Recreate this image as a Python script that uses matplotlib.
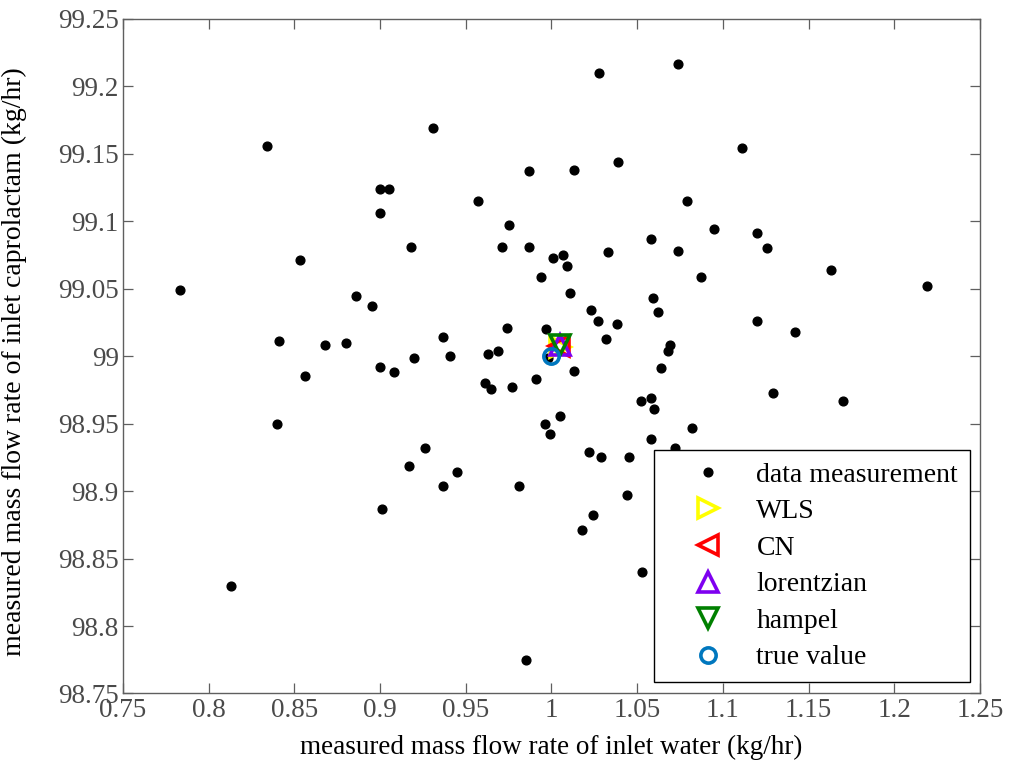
import matplotlib
matplotlib.use("Agg")
import matplotlib.pyplot as plt

plt.rcParams['font.family'] = ['Liberation Serif', 'DejaVu Serif']

meas_x = [0.783, 0.834, 0.853, 0.841, 0.868, 0.880, 0.886, 0.895, 0.900, 0.905,
          0.900, 0.918, 0.931, 0.937, 0.941, 0.920, 0.963, 0.969, 0.974, 0.987,
          0.957, 0.975, 0.971, 0.987, 0.994, 0.997, 1.028, 1.074, 1.111, 1.039,
          1.013, 1.079, 1.095, 1.120, 1.126, 1.058, 1.074, 1.033, 1.001, 1.007,
          1.009, 1.087, 1.163, 1.219, 1.011, 1.059, 1.062, 1.023, 1.027, 1.038,
          1.120, 1.142, 1.032, 1.069, 1.068, 1.013, 1.064, 1.129, 1.170, 1.052,
          1.058, 1.060, 1.005, 0.996, 0.999, 1.082, 1.058, 1.072, 1.022, 1.029,
          1.045, 1.044, 1.024, 1.018, 1.053, 0.900, 0.908, 0.856, 0.961, 0.965,
          0.977, 0.991, 0.840, 0.926, 0.917, 0.945, 0.937, 0.981, 0.901, 0.813,
          0.985, 0.998]
meas_y = [99.049, 99.156, 99.071, 99.011, 99.008, 99.010, 99.045, 99.037, 99.124, 99.124,
          99.106, 99.081, 99.169, 99.014, 99.000, 98.999, 99.002, 99.004, 99.021, 99.137,
          99.115, 99.097, 99.081, 99.081, 99.059, 99.020, 99.210, 99.217, 99.154, 99.144,
          99.138, 99.115, 99.094, 99.091, 99.080, 99.087, 99.078, 99.077, 99.073, 99.075,
          99.067, 99.059, 99.064, 99.052, 99.047, 99.043, 99.033, 99.034, 99.026, 99.024,
          99.026, 99.018, 99.013, 99.008, 99.004, 98.989, 98.991, 98.973, 98.967, 98.967,
          98.969, 98.961, 98.956, 98.950, 98.942, 98.947, 98.939, 98.932, 98.929, 98.925,
          98.925, 98.897, 98.882, 98.871, 98.840, 98.992, 98.988, 98.985, 98.980, 98.976,
          98.977, 98.983, 98.950, 98.932, 98.919, 98.914, 98.904, 98.904, 98.887, 98.830,
          98.775, 98.999]

wls = (1.0050, 99.0070)
cn = (1.0045, 99.0075)
lorentzian = (1.0048, 99.0080)
hampel = (1.0052, 99.0087)
true_value = (1.0000, 99.0000)

xticks = [0.75, 0.8, 0.85, 0.9, 0.95, 1.0, 1.05, 1.1, 1.15, 1.2, 1.25]
xticklabels = ['0.75', '0.8', '0.85', '0.9', '0.95', '1', '1.05', '1.1', '1.15', '1.2', '1.25']
yticks = [98.75, 98.8, 98.85, 98.9, 98.95, 99.0, 99.05, 99.1, 99.15, 99.2, 99.25]
yticklabels = ['98.75', '98.8', '98.85', '98.9', '98.95', '99', '99.05', '99.1', '99.15', '99.2', '99.25']

fig = plt.figure(figsize=(10.12, 7.72), dpi=100)
ax = fig.add_axes([0.1215, 0.1017, 0.8469, 0.8737])

ax.plot(meas_x, meas_y, 'o', color='black', markersize=6.3, linestyle='none',
        label='data measurement')
ax.plot([wls[0]], [wls[1]], '>', mfc='none', mec='#FFFF00', mew=2.6, markersize=15,
        linestyle='none', label='WLS')
ax.plot([cn[0]], [cn[1]], '<', mfc='none', mec='#FF0000', mew=2.6, markersize=15,
        linestyle='none', label='CN')
ax.plot([lorentzian[0]], [lorentzian[1]], '^', mfc='none', mec='#7E00F0', mew=2.6, markersize=15,
        linestyle='none', label='lorentzian')
ax.plot([hampel[0]], [hampel[1]], 'v', mfc='none', mec='#008000', mew=2.6, markersize=15,
        linestyle='none', label='hampel')
ax.plot([true_value[0]], [true_value[1]], 'o', mfc='none', mec='#0077BE', mew=2.6, markersize=11,
        linestyle='none', label='true value')

ax.set_xlim(0.75, 1.25)
ax.set_ylim(98.75, 99.25)
ax.set_xticks(xticks)
ax.set_xticklabels(xticklabels)
ax.set_yticks(yticks)
ax.set_yticklabels(yticklabels)

spine_color = '#5f5f5f'
for s in ax.spines.values():
    s.set_color(spine_color)
    s.set_linewidth(1.0)
ax.tick_params(direction='in', length=7, width=0.9, colors=spine_color,
               labelcolor='#4a4a4a', labelsize=19.5, top=True, right=True, pad=3)

ax.set_xlabel('measured mass flow rate of inlet water (kg/hr)', fontsize=19.5)
ax.set_ylabel('measured mass flow rate of inlet caprolactam (kg/hr)', fontsize=20)
ax.xaxis.set_label_coords(0.5, -0.062)
ax.yaxis.set_label_coords(-0.112, 0.492)

leg = ax.legend(loc='lower right', bbox_to_anchor=(0.988, 0.017), fontsize=20,
                frameon=True, fancybox=False, edgecolor='black', framealpha=1,
                borderpad=0.42, labelspacing=0.4, handlelength=3.1, handletextpad=0.18,
                borderaxespad=0, markerscale=1.0)
leg.get_frame().set_linewidth(1.0)

fig.savefig('out.png', dpi=100)
